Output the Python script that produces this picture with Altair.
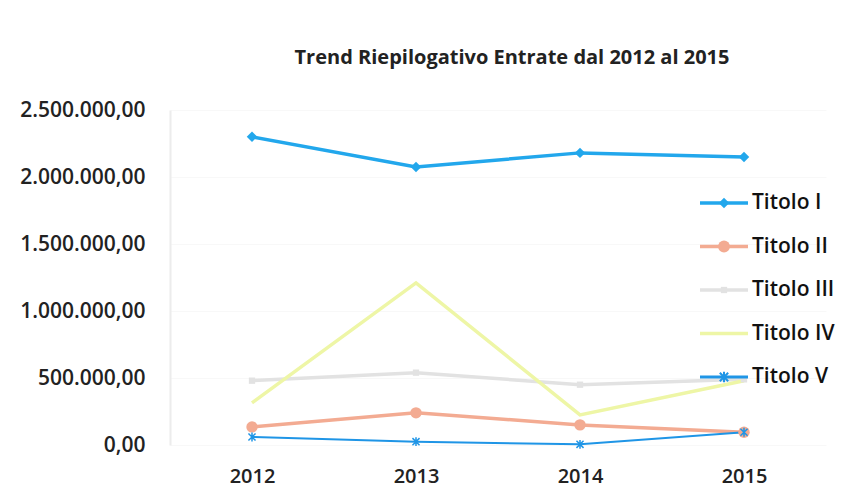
import altair as alt
import pandas as pd

years = ["2012", "2013", "2014", "2015"]
series = ["Titolo I", "Titolo II", "Titolo III", "Titolo IV", "Titolo V"]
titolo_1 = [2300000, 2075000, 2180000, 2150000]
titolo_2 = [135000, 240000, 150000, 95000]
titolo_3 = [480000, 540000, 450000, 490000]
titolo_4 = [315000, 1210000, 225000, 480000]
titolo_5 = [60000, 25000, 5000, 95000]
colors = ["#22a7ec", "#f3ab92", "#e2e2e2", "#eef6a6", "#1f95e6"]
y_ticks = [0, 500000, 1000000, 1500000, 2000000, 2500000]

rows = []
for name, vals in zip(series, [titolo_1, titolo_2, titolo_3, titolo_4, titolo_5]):
    for yr, v in zip(years, vals):
        rows.append({"anno": yr, "serie": name, "valore": v})
df = pd.DataFrame(rows)
legend_df = pd.DataFrame({"serie": series})

FONT = "Open Sans"
color_scale = alt.Scale(domain=series, range=colors)
color_enc = alt.Color("serie:N", scale=color_scale, legend=None)

x_enc = alt.X("anno:O", scale=alt.Scale(domain=years, paddingOuter=0.5),
              axis=alt.Axis(title=None, labelAngle=0, labelFont=FONT, labelFontSize=20,
                            labelFontWeight=600, labelColor="#222", ticks=False,
                            domain=False, labelPadding=21))
y_enc = alt.Y("valore:Q", scale=alt.Scale(domain=[0, 2500000]),
              axis=alt.Axis(title=None, values=y_ticks, labelFont=FONT, labelFontSize=21,
                            labelFontWeight=600, labelColor="#222", ticks=False,
                            domain=True, domainColor="#ececec", domainWidth=2,
                            grid=True, gridColor="#f8f8f8", labelPadding=25,
                            labelExpr="replace(replace(replace(format(datum.value, ',.2f'), regexp(',', 'g'), '#'), regexp('\\\\.', 'g'), ','), regexp('#', 'g'), '.')"))

base = alt.Chart(df)

lines = base.mark_line().encode(
    x=x_enc, y=y_enc, color=color_enc,
    order=alt.Order("anno:O"),
    strokeWidth=alt.condition("datum.serie == 'Titolo V'", alt.value(2), alt.value(3.5)),
)

STAR = "M-1,-1L1,1M1,-1L-1,1M0,-1.25L0,1.25"

def pts(src, name, shape, size, x, y, filled=True, sw=1):
    return src.transform_filter(f"datum.serie == '{name}'").mark_point(
        shape=shape, size=size, filled=filled, opacity=1, strokeWidth=sw
    ).encode(x=x, y=y, color=color_enc)

data_layer = alt.layer(
    lines,
    pts(base, "Titolo I", "diamond", 110, x_enc, y_enc),
    pts(base, "Titolo II", "circle", 130, x_enc, y_enc),
    pts(base, "Titolo III", "square", 40, x_enc, y_enc),
    pts(base, "Titolo V", STAR, 50, x_enc, y_enc, filled=False, sw=1.5),
)

# legend drawn inside the plot, one row per series
lbase = alt.Chart(legend_df)
ly = alt.Y("serie:N", scale=alt.Scale(type="point", domain=series, range=[93, 267], padding=0),
           axis=None)
leg_lines = lbase.mark_rule().encode(
    x=alt.value(530), x2=alt.value(578), y=ly, color=color_enc,
    strokeWidth=alt.condition("datum.serie == 'Titolo V'", alt.value(3), alt.value(3.5)),
)
lx = alt.value(554)
leg_text = lbase.mark_text(align="left", baseline="middle", font=FONT, fontSize=21,
                           fontWeight=600, color="#111").encode(
    x=alt.value(582), y=ly, text="serie:N")
legend_layer = alt.layer(
    leg_lines,
    pts(lbase, "Titolo I", "diamond", 110, lx, ly),
    pts(lbase, "Titolo II", "circle", 140, lx, ly),
    pts(lbase, "Titolo III", "square", 40, lx, ly),
    pts(lbase, "Titolo V", STAR, 70, lx, ly, filled=False, sw=2),
    leg_text,
)

chart = alt.layer(data_layer, legend_layer).resolve_scale(y="independent").properties(
    width=656, height=335,
    title=alt.TitleParams("Trend Riepilogativo Entrate dal 2012 al 2015", font=FONT,
                          fontSize=20, fontWeight="bold", color="#222", offset=31,
                          anchor="middle", dx=14),
    padding={"left": 162, "top": 102, "right": 15, "bottom": 45},
    autosize=alt.AutoSizeParams(type="none"),
).configure(background="white").configure_view(stroke=None)

chart.save("out.html", embed_options={"renderer": "svg", "actions": False})
